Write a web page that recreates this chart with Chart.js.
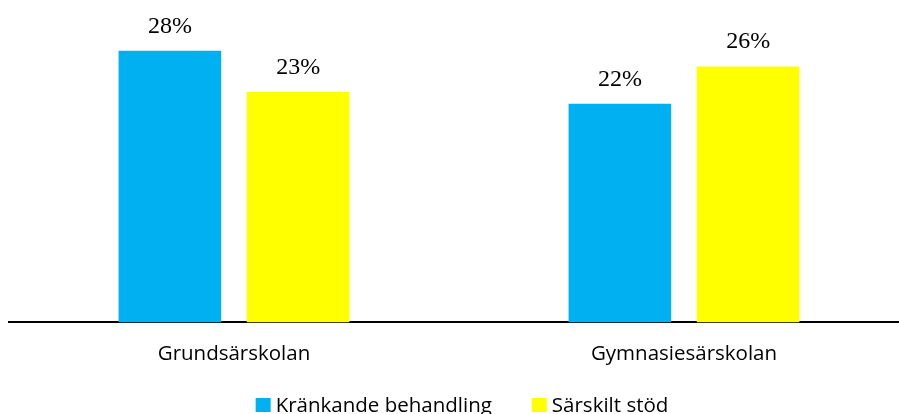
<!DOCTYPE html>
<html>
<head>
<meta charset="utf-8">
<script src="https://cdn.jsdelivr.net/npm/chart.js@4.4.0/dist/chart.umd.min.js"></script>
<style>
  html, body { margin: 0; padding: 0; background: #fff; overflow: hidden; }
  #wrap { width: 910px; height: 414px; position: relative; }
</style>
</head>
<body>
<div id="wrap"><canvas id="x-chart"></canvas></div>
<script>
var categories = ["Grundsärskolan", "Gymnasiesärskolan"];
var seriesNames = ["Kränkande behandling", "Särskilt stöd"];
var krankande = [27.6, 22.2];
var sarskilt = [23.4, 26.0];
var seriesColors = ["#00B0F0", "#FFFF00"];

var sansFont = '"Open Sans", sans-serif';

// percent labels above each bar
var barLabels = {
  id: 'barLabels',
  afterDatasetsDraw: function (chart) {
    var ctx = chart.ctx;
    ctx.save();
    ctx.font = '24px "Liberation Serif", "Times New Roman", serif';
    ctx.fillStyle = '#000';
    ctx.textAlign = 'center';
    ctx.textBaseline = 'alphabetic';
    chart.data.datasets.forEach(function (ds, i) {
      chart.getDatasetMeta(i).data.forEach(function (bar, j) {
        ctx.fillText(Math.round(ds.data[j]) + '%', bar.x, bar.y - 18);
      });
    });
    ctx.restore();
  }
};

// legend at the bottom, spaced like the original
var bottomLegend = {
  id: 'bottomLegend',
  afterDraw: function (chart) {
    var ctx = chart.ctx;
    var box = 15, gapText = 5, gapItem = 40;
    ctx.save();
    ctx.font = '20.5px ' + sansFont;
    var items = chart.data.datasets.map(function (ds) {
      return { text: ds.label, color: ds.backgroundColor, w: ctx.measureText(ds.label).width };
    });
    var total = 0;
    items.forEach(function (it, i) {
      total += box + gapText + it.w + (i < items.length - 1 ? gapItem : 0);
    });
    var x = (chart.chartArea.left + chart.chartArea.right) / 2 + 3 - total / 2;
    var y = 398;
    ctx.textBaseline = 'alphabetic';
    items.forEach(function (it) {
      ctx.fillStyle = it.color;
      ctx.fillRect(x, y, box, 14);
      ctx.fillStyle = '#000';
      ctx.fillText(it.text, x + box + gapText, y + 14);
      x += box + gapText + it.w + gapItem;
    });
    ctx.restore();
  }
};

new Chart(document.getElementById("x-chart"), {
    type: 'bar',
    data: {
      labels: categories,
      datasets: [{
        label: seriesNames[0],
        backgroundColor: seriesColors[0],
        data: krankande
      }, {
        label: seriesNames[1],
        backgroundColor: seriesColors[1],
        data: sarskilt
      }]
    },
    options: {
      responsive: true,
      maintainAspectRatio: false,
      animation: false,
      categoryPercentage: 0.57,
      barPercentage: 0.8,
      layout: { padding: { left: 9, right: 1, top: 27, bottom: 37 } },
      plugins: {
        tooltip: { enabled: false },
        legend: { display: false }
      },
      scales: {
        x: {
          grid: { display: false },
          border: { display: true, color: '#000', width: 2 },
          ticks: {
            color: '#000',
            padding: 11,
            font: { family: sansFont, size: 20.5 }
          }
        },
        y: {
          display: false,
          min: 0,
          max: 30
        }
      }
    },
    plugins: [barLabels, bottomLegend]
});
</script>
</body>
</html>
